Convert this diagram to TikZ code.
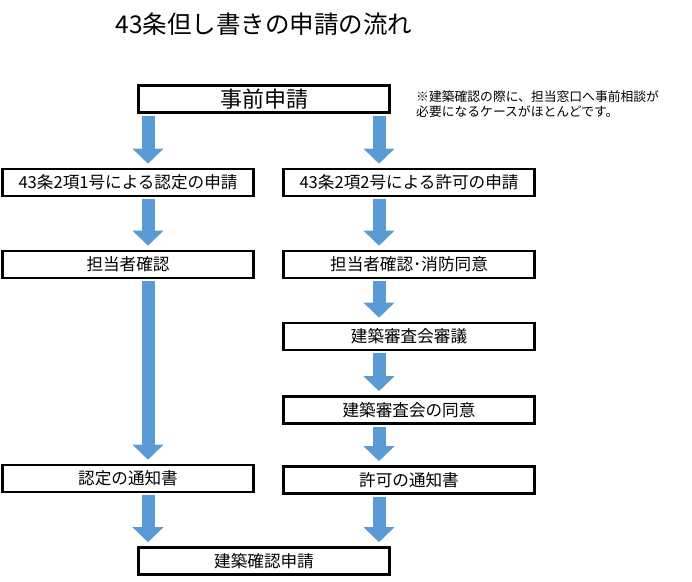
\documentclass[tikz,border=0pt]{standalone}
\usepackage{fontspec}
\setmainfont{Noto Sans CJK JP}
\usetikzlibrary{arrows.meta}
\definecolor{flowblue}{RGB}{91,155,213}

\begin{document}
\begin{tikzpicture}[x=1pt,y=-1pt,line join=miter,
  box/.style={draw,line width=2.6pt,minimum width=251pt,minimum height=27pt,
    inner sep=0pt,font=\fontsize{16.6}{16.6}\selectfont},
  flow/.style={draw=flowblue,line width=13pt,-{Triangle[width=30pt,length=15pt]},
    shorten <=2pt,shorten >=4pt}]
  \useasboundingbox (0,0) rectangle (692,581);
  \coordinate (L) at (148,0);
  \coordinate (R) at (379,0);
  \node (title) at (264,24) {\fontsize{24.5}{24.5}\selectfont 43条但し書きの申請の流れ};
  \node[box,font=\fontsize{22}{22}\selectfont] (pre) at (264,99) {事前申請};
  \node[anchor=north west,inner sep=0pt,align=left,font=\fontsize{12.8}{15}\selectfont]
    (note) at (416,90) {※建築確認の際に、担当窓口へ事前相談が\\必要になるケースがほとんどです。};
  % left column
  \node[box] (l1) at (128,182.5) {43条2項1号による認定の申請};
  \node[box] (l2) at (128,264.5) {担当者確認};
  \node[box] (l5) at (128,478.5) {認定の通知書};
  % right column
  \node[box] (r1) at (409,182.5) {43条2項2号による許可の申請};
  \node[box] (r2) at (409,264.5) {担当者確認･消防同意};
  \node[box] (r3) at (409,336.5) {建築審査会審議};
  \node[box] (r4) at (409,410) {建築審査会の同意};
  \node[box] (r5) at (409,480) {許可の通知書};
  \node[box] (fin) at (264,561) {建築確認申請};
  % arrows
  \draw[flow] (pre.south -| L) -- (l1.north -| L);
  \draw[flow] (pre.south -| R) -- (r1.north -| R);
  \draw[flow] (l1.south -| L) -- (l2.north -| L);
  \draw[flow] (l2.south -| L) -- (l5.north -| L);
  \draw[flow] (l5.south -| L) -- (fin.north -| L);
  \draw[flow] (r1.south -| R) -- (r2.north -| R);
  \draw[flow] (r2.south -| R) -- (r3.north -| R);
  \draw[flow] (r3.south -| R) -- (r4.north -| R);
  \draw[flow] (r4.south -| R) -- (r5.north -| R);
  \draw[flow] (r5.south -| R) -- (fin.north -| R);
\end{tikzpicture}
\end{document}
